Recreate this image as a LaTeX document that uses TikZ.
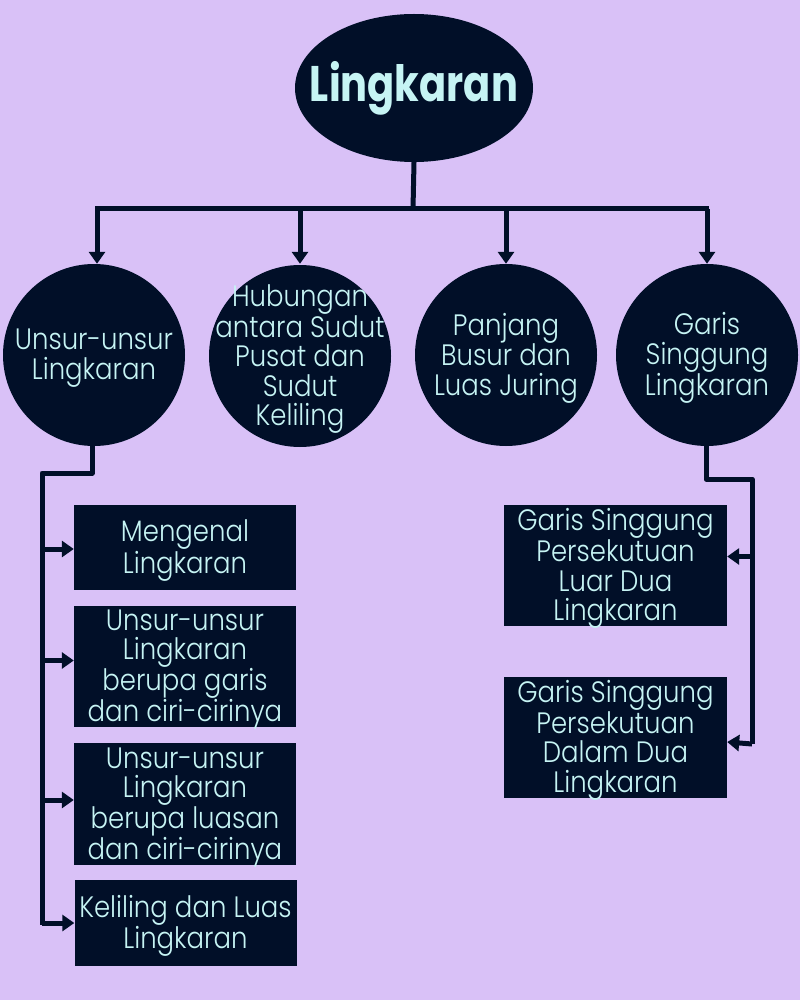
\documentclass[tikz,border=0pt]{standalone}
\usepackage{fontspec}
\IfFontExistsTF{Poppins Light}{\setmainfont{Poppins Light}[FakeStretch=0.88]}{\setmainfont{Poppins}[FakeStretch=0.88]}
\newfontfamily\titlefont{Poppins}[UprightFont=* Bold,FakeStretch=0.8]
\usetikzlibrary{shapes.geometric,arrows.meta}
\definecolor{bgc}{HTML}{D9C1F7}
\definecolor{navy}{HTML}{010F28}
\definecolor{txtc}{HTML}{C6F4F4}
\tikzset{
  lbl/.style={text=txtc,align=center,inner sep=0pt,yshift=-3pt,font=\fontsize{29.5}{29.5}\selectfont},
  circ/.style={circle,fill=navy,minimum size=182pt,inner sep=0pt,label={[lbl]center:#1}},
  box/.style={rectangle,fill=navy,minimum width=222pt,inner sep=0pt,label={[lbl]center:#1}},
  conn/.style={draw=navy,line width=5pt,line join=round},
  arr/.style={conn,-{Triangle[width=16pt,length=12pt]}}
}
\begin{document}
\begin{tikzpicture}[x=1pt,y=-1pt]
\fill[bgc] (0,0) rectangle (800,1000);
\useasboundingbox (0,0) rectangle (800,1000);
\node[ellipse,fill=navy,text=txtc,minimum width=238pt,minimum height=148pt,inner sep=0pt,font=\titlefont\fontsize{50}{50}\selectfont] (title) at (414,88) {\makebox[0pt]{\raisebox{-3pt}{Lingkaran}}};
\node[circ={Unsur-unsur\\Lingkaran}] (c1) at (94,355) {};
\node[circ={Hubungan\\antara Sudut\\Pusat dan\\Sudut\\Keliling}] (c2) at (300,356) {};
\node[circ={Panjang\\Busur dan\\Luas Juring}] (c3) at (506,355) {};
\node[circ={Garis\\Singgung\\Lingkaran}] (c4) at (707,355) {};
\node[box={Mengenal\\Lingkaran},minimum height=85pt] (b1) at (185,547.5) {};
\node[box={Unsur-unsur\\Lingkaran\\berupa garis\\dan ciri-cirinya},minimum height=121pt] (b2) at (185,666.5) {};
\node[box={Unsur-unsur\\Lingkaran\\berupa luasan\\dan ciri-cirinya},minimum height=122pt] (b3) at (185,804) {};
\node[box={Keliling dan Luas\\Lingkaran},minimum height=86pt] (b4) at (185.5,923) {};
\node[box={Garis Singgung\\Persekutuan\\Luar Dua\\Lingkaran},minimum width=223pt,minimum height=121pt] (r1) at (615.5,565.5) {};
\node[box={Garis Singgung\\Persekutuan\\Dalam Dua\\Lingkaran},minimum width=223pt,minimum height=121pt] (r2) at (615.5,737) {};
\coordinate (j0) at (413,209);
\coordinate (jl) at (95,209);
\coordinate (jr) at (709,209);
\coordinate (lt) at (42,473);
\coordinate (lb) at (42,925);
\coordinate (rt) at (752,479);
\coordinate (rb) at (752,744);
\coordinate (c1top) at ([xshift=3pt]c1.north);
\coordinate (c2top) at (c2.north |- c1.north);
\coordinate (c1bot) at ([xshift=-2pt]c1.south);
\coordinate (c4bot) at ([xshift=-1pt]c4.south);
\coordinate (b1in) at ([yshift=-1.5pt]b1.west);
\coordinate (b2in) at ([yshift=6pt]b2.west);
\coordinate (b3in) at ([yshift=4pt]b3.west);
\coordinate (r1in) at ([yshift=9pt]r1.east);
\coordinate (r2in) at ([yshift=-5pt]r2.east);
\draw[conn] (title.south) -- (j0);
\draw[conn] (jl) -- (jr);
\draw[arr] (jl -| c1top) -- (c1top);
\draw[arr] (jl -| c2top) -- (c2top);
\draw[arr] (jl -| c3) -- (c3.north);
\draw[arr] (jl -| c4) -- (c4.north);
\draw[conn] (c1bot) |- (lt) -- (lb);
\draw[arr] (lt |- b1in) -- (b1in);
\draw[arr] (lt |- b2in) -- (b2in);
\draw[arr] (lt |- b3in) -- (b3in);
\draw[arr] (lt |- b4) -- (b4.west);
\draw[conn] (c4bot) |- (rt) -- (rb);
\draw[arr] (rt |- r1in) -- (r1in);
\draw[arr] (rb) -- (r2in);
\end{tikzpicture}
\end{document}
